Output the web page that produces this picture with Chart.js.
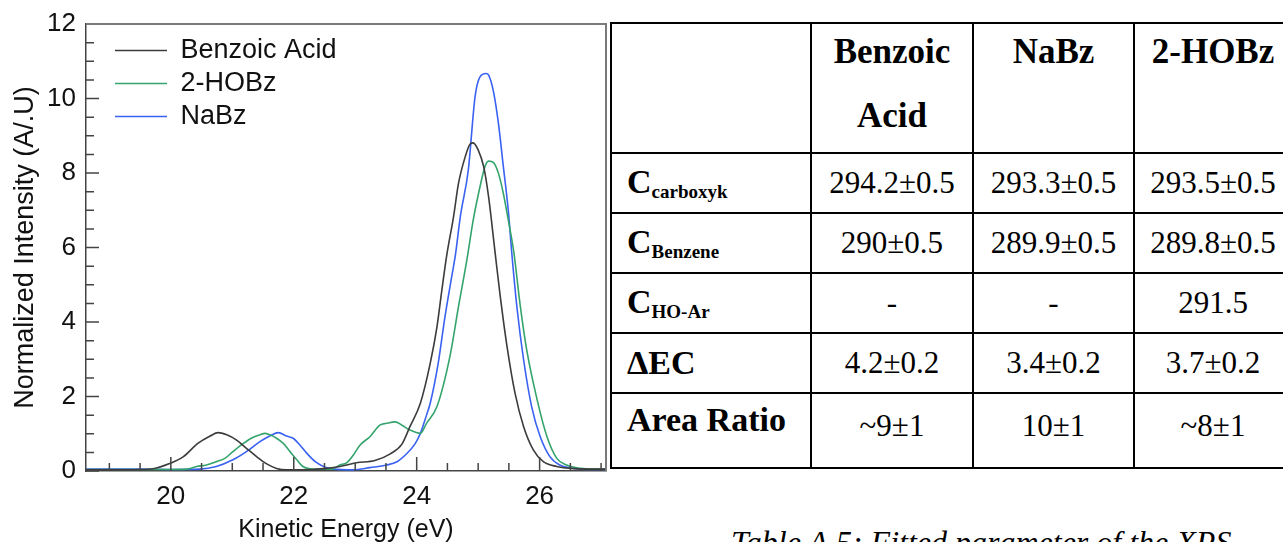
<!DOCTYPE html>
<html>
<head>
<meta charset="utf-8">
<script src="https://cdn.jsdelivr.net/npm/chart.js@4.4.1/dist/chart.umd.min.js"></script>
<style>
    html, body { margin: 0; padding: 0; width: 1283px; height: 542px; overflow: hidden; background: #fff; }
    #chartBox { position: absolute; left: 0; top: 0; width: 607px; height: 542px; }
    table { position: absolute; left: 610px; top: 22px; width: 681px; border-collapse: collapse; table-layout: fixed;
            font-family: 'Liberation Serif', 'Times New Roman', serif; color: #000; }
    th, td { border: 2.5px solid #000; padding: 0; }
    th { font-weight: bold; font-size: 35px; line-height: 64px; vertical-align: top; text-align: center; height: 122px; }
    th span { position: relative; top: -4px; }
    td { font-size: 31px; text-align: center; vertical-align: middle; height: 58px; }
    td.lab { text-align: left; padding-left: 15px; font-weight: bold; font-size: 34px; }
    td.lab sub { font-size: 19px; vertical-align: -0.25em; }
    tr.last td { height: 59px; vertical-align: top; padding-top: 14px; }
    tr.last td.lab { padding-top: 7px; height: 66px; }
    #caption { position: absolute; left: 731px; top: 524px; font-family: 'Liberation Serif', serif;
               font-style: italic; font-size: 32px; white-space: nowrap; }
</style>
</head>
<body>
<div id="chartBox"><canvas id="xpsChart"></canvas></div>

<table>
    <colgroup><col style="width:200px"><col style="width:162px"><col style="width:161px"><col style="width:158px"></colgroup>
    <tr><th></th><th><span>Benzoic<br>Acid</span></th><th><span>NaBz</span></th><th><span>2-HOBz</span></th></tr>
    <tr><td class="lab">C<sub>carboxyk</sub></td><td>294.2±0.5</td><td>293.3±0.5</td><td>293.5±0.5</td></tr>
    <tr><td class="lab">C<sub>Benzene</sub></td><td>290±0.5</td><td>289.9±0.5</td><td>289.8±0.5</td></tr>
    <tr><td class="lab">C<sub>HO-Ar</sub></td><td>-</td><td>-</td><td>291.5</td></tr>
    <tr><td class="lab">ΔEC</td><td>4.2±0.2</td><td>3.4±0.2</td><td>3.7±0.2</td></tr>
    <tr class="last"><td class="lab">Area Ratio</td><td>~9±1</td><td>10±1</td><td>~8±1</td></tr>
</table>
<div id="caption">Table A.5: Fitted parameter of the XPS</div>

<script>
// Benzoic Acid
const benzoicX = [18.62, 19.0, 19.5, 19.71, 19.98, 20.2, 20.44, 20.64, 20.77, 20.91, 21.07, 21.23, 21.4, 21.56, 21.72, 21.88, 22.1, 22.3, 22.54, 22.75, 23.02, 23.32, 23.57, 23.76, 23.89, 24.06, 24.22, 24.33, 24.41, 24.49, 24.6, 24.68, 24.79, 24.87, 24.92, 25.0, 25.09, 25.17, 25.28, 25.36, 25.47, 25.6, 25.74, 25.9, 26.06, 26.28, 26.5, 26.8, 27.08];
const benzoicY = [0.03, 0.03, 0.04, 0.06, 0.2, 0.38, 0.74, 0.94, 1.03, 0.97, 0.83, 0.61, 0.38, 0.19, 0.07, 0.03, 0.03, 0.04, 0.07, 0.12, 0.22, 0.28, 0.46, 0.72, 1.19, 1.82, 2.89, 3.87, 4.86, 5.8, 6.83, 7.72, 8.44, 8.78, 8.81, 8.62, 8.17, 7.36, 5.8, 4.68, 3.34, 2.09, 1.19, 0.56, 0.25, 0.12, 0.07, 0.05, 0.05];

// 2-HOBz
const hobzX = [18.62, 19.5, 20.0, 20.26, 20.42, 20.58, 20.74, 20.88, 21.01, 21.18, 21.31, 21.45, 21.53, 21.61, 21.72, 21.83, 21.94, 22.05, 22.15, 22.32, 22.62, 22.75, 22.86, 22.97, 23.08, 23.24, 23.4, 23.51, 23.65, 23.76, 23.89, 24.06, 24.16, 24.33, 24.54, 24.68, 24.82, 24.92, 25.03, 25.11, 25.17, 25.25, 25.33, 25.41, 25.49, 25.58, 25.68, 25.79, 25.96, 26.12, 26.28, 26.44, 26.66, 26.9, 27.08];
const hobzY = [0.04, 0.04, 0.04, 0.05, 0.12, 0.16, 0.25, 0.34, 0.52, 0.74, 0.88, 0.97, 1.01, 0.97, 0.88, 0.74, 0.52, 0.3, 0.12, 0.05, 0.05, 0.16, 0.22, 0.43, 0.7, 0.92, 1.23, 1.28, 1.32, 1.23, 1.1, 1.01, 1.28, 1.73, 3.07, 4.41, 5.7, 6.74, 7.63, 8.17, 8.32, 8.28, 7.99, 7.45, 6.74, 5.88, 4.5, 3.25, 1.91, 0.92, 0.34, 0.16, 0.07, 0.05, 0.05];

// NaBz
const nabzX = [18.62, 19.5, 20.04, 20.47, 20.74, 21.01, 21.23, 21.45, 21.61, 21.75, 21.88, 21.99, 22.1, 22.21, 22.35, 22.51, 22.64, 22.97, 23.24, 23.51, 23.68, 23.84, 23.97, 24.06, 24.16, 24.22, 24.35, 24.46, 24.57, 24.63, 24.71, 24.84, 24.95, 25.03, 25.13, 25.17, 25.25, 25.33, 25.41, 25.49, 25.55, 25.63, 25.74, 25.87, 26.01, 26.17, 26.33, 26.55, 26.8, 27.08];
const nabzY = [0.05, 0.05, 0.04, 0.05, 0.12, 0.3, 0.52, 0.79, 0.94, 1.03, 0.94, 0.88, 0.7, 0.48, 0.25, 0.1, 0.05, 0.03, 0.09, 0.16, 0.25, 0.47, 0.72, 1.01, 1.5, 1.82, 2.89, 4.14, 5.22, 5.8, 6.83, 8.08, 10.05, 10.58, 10.67, 10.63, 10.18, 9.33, 8.17, 7.0, 5.8, 4.41, 2.98, 1.73, 0.92, 0.38, 0.16, 0.07, 0.04, 0.04];

const seriesNames = ['Benzoic Acid', '2-HOBz', 'NaBz'];
const seriesColors = ['#3c3c3c', '#35a46c', '#3a62f2'];
const xMajorTicks = [20, 22, 24, 26];
const yMajorTicks = [0, 2, 4, 6, 8, 10, 12];

function toPoints(xs, ys) {
    return xs.map((x, i) => ({ x: x, y: ys[i] }));
}

// ticks drawn inside the plot frame, plus the frame itself
const innerTicks = {
    id: 'innerTicks',
    afterDraw(chart) {
        const { ctx, chartArea: a, scales: { x, y } } = chart;
        ctx.save();
        ctx.strokeStyle = '#444';
        ctx.lineWidth = 1.5;
        ctx.beginPath();
        x.ticks.forEach(t => {
            const px = x.getPixelForValue(t.value);
            const len = xMajorTicks.includes(t.value) ? 14 : 8;
            ctx.moveTo(px, a.bottom);
            ctx.lineTo(px, a.bottom - len);
        });
        y.ticks.forEach(t => {
            const py = y.getPixelForValue(t.value);
            const len = yMajorTicks.includes(t.value) ? 13 : 8;
            ctx.moveTo(a.left, py);
            ctx.lineTo(a.left + len, py);
        });
        ctx.stroke();
        ctx.strokeStyle = '#7a7a7a';
        ctx.lineWidth = 2;
        ctx.beginPath();
        ctx.moveTo(a.left, a.top);
        ctx.lineTo(a.right, a.top);
        ctx.lineTo(a.right, a.bottom);
        ctx.stroke();
        ctx.restore();
    },
    afterLayout(chart) {
        // nudge the in-plot legend to where the original has it
        chart.legend.left += 23;
        chart.legend.top += 31;
    }
};

const ctx = document.getElementById('xpsChart').getContext('2d');
Chart.defaults.font.family = "'Liberation Sans', Arial, sans-serif";
Chart.defaults.color = '#111';

const xpsChart = new Chart(ctx, {
    type: 'line',
    data: {
        datasets: [
            { label: seriesNames[0], data: toPoints(benzoicX, benzoicY), borderColor: seriesColors[0] },
            { label: seriesNames[1], data: toPoints(hobzX, hobzY), borderColor: seriesColors[1] },
            { label: seriesNames[2], data: toPoints(nabzX, nabzY), borderColor: seriesColors[2] }
        ].map(d => Object.assign(d, {
            backgroundColor: d.borderColor,
            borderWidth: 1.6,
            pointRadius: 0,
            fill: false,
            cubicInterpolationMode: 'monotone'
        }))
    },
    options: {
        responsive: true,
        maintainAspectRatio: false,
        animation: false,
        layout: { padding: { top: 24, right: 1, left: 0, bottom: 0 } },
        plugins: {
            tooltip: { enabled: false },
            legend: {
                position: 'chartArea',
                align: 'start',
                labels: {
                    usePointStyle: true,
                    pointStyle: 'line',
                    pointStyleWidth: 52,
                    padding: 6,
                    font: { size: 27 },
                    color: '#111'
                }
            }
        },
        scales: {
            x: {
                type: 'linear',
                min: 18.62,
                max: 27.08,
                grid: { display: false },
                border: { color: '#444', width: 1.5 },
                ticks: {
                    stepSize: 0.5,
                    includeBounds: false,
                    autoSkip: false,
                    maxRotation: 0,
                    padding: 2,
                    font: { size: 26 },
                    callback: v => xMajorTicks.includes(v) ? String(v) : ''
                },
                title: { display: true, text: 'Kinetic Energy (eV)', font: { size: 25 }, padding: { top: 0, bottom: -3 }, color: '#111' },
                afterFit(scale) { scale.height = 71; }
            },
            y: {
                min: 0,
                max: 12,
                grid: { display: false },
                border: { color: '#444', width: 1.5 },
                ticks: {
                    stepSize: 0.5,
                    autoSkip: false,
                    padding: 2,
                    font: { size: 26 },
                    callback: v => yMajorTicks.includes(v) ? String(v) : ''
                },
                title: { display: true, text: 'Normalized Intensity (A/.U)', font: { size: 27 }, padding: { top: 9 }, color: '#111' },
                afterFit(scale) { scale.width = 86; }
            }
        }
    },
    plugins: [innerTicks]
});
</script>
</body>
</html>
